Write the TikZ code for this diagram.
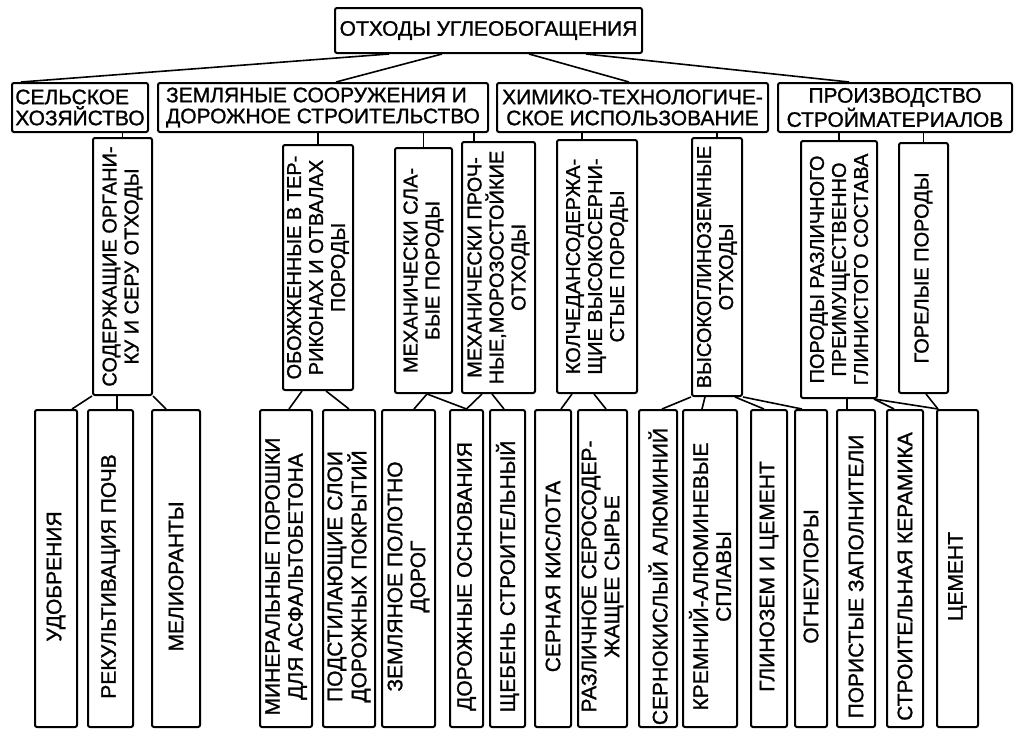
\documentclass[tikz,border=0pt]{standalone}
\usepackage{fontspec}
\setmainfont{Liberation Sans}[FakeBold=1.2]

\begin{document}
\begin{tikzpicture}[x=1pt, y=-1pt,
    box/.style={draw, line width=2pt, rounded corners=2pt, inner sep=0pt},
    vtext/.style={rotate=90, align=center, inner sep=0pt, font=\fontsize{20}{22}\selectfont},
    leaftext/.style={vtext, font=\fontsize{21}{23}\selectfont},
    link/.style={line width=1.6pt},
    every node/.style={font=\fontsize{21}{21}\selectfont}]

\useasboundingbox (0,0) rectangle (1018,731);

% Root
\node[box, minimum width=307, minimum height=45] (top) at (488.5,30.5) {ОТХОДЫ УГЛЕОБОГАЩЕНИЯ};

% Directions of use
\node[box, minimum width=136, minimum height=49, align=left] (sel) at (80,107.5) {СЕЛЬСКОЕ\\ХОЗЯЙСТВО};
\node[box, minimum width=330, minimum height=49, align=left] (zem) at (323,107.5) {ЗЕМЛЯНЫЕ СООРУЖЕНИЯ И\\ДОРОЖНОЕ СТРОИТЕЛЬСТВО};
\node[box, minimum width=271, minimum height=49, align=center] (him) at (632.5,107.5) {ХИМИКО-ТЕХНОЛОГИЧЕ-\\СКОЕ ИСПОЛЬЗОВАНИЕ};
\node[box, minimum width=234, minimum height=49, align=center] (pro) at (895,107.5) {ПРОИЗВОДСТВО\\СТРОЙМАТЕРИАЛОВ};

% Kinds of waste
\foreach \n/\x/\y/\w/\h/\t in {
    org/122.5/266.5/59/257/{СОДЕРЖАЩИЕ ОРГАНИ-\\КУ И СЕРУ ОТХОДЫ},
    obo/318/267.5/70/245/{ОБОЖЖЕННЫЕ В ТЕР-\\РИКОНАХ И ОТВАЛАХ\\ПОРОДЫ},
    msl/423.5/270.5/57/245/{МЕХАНИЧЕСКИ СЛА-\\БЫЕ ПОРОДЫ},
    mpr/498.5/267.5/73/251/{МЕХАНИЧЕСКИ ПРОЧ-\\НЫЕ,МОРОЗОСТОЙКИЕ\\ОТХОДЫ},
    kol/597/266.5/80/253/{КОЛЧЕДАНСОДЕРЖА-\\ЩИЕ ВЫСОКОСЕРНИ-\\СТЫЕ ПОРОДЫ},
    vgl/717/267/50/258/{ВЫСОКОГЛИНОЗЕМНЫЕ\\ОТХОДЫ},
    prd/839/269.5/76/257/{ПОРОДЫ РАЗЛИЧНОГО\\ПРЕИМУЩЕСТВЕННО\\ГЛИНИСТОГО СОСТАВА},
    gor/923.5/268/49/250/{ГОРЕЛЫЕ ПОРОДЫ}} {
    \node[box, minimum width=\w, minimum height=\h] (\n) at (\x,\y) {};
    \node[vtext] (\n-t) at (\n) {\t};
}

% Products
\foreach \n/\x/\w/\t in {
    udo/56/42/{УДОБРЕНИЯ},
    rek/110.5/45/{РЕКУЛЬТИВАЦИЯ ПОЧВ},
    mel/176/48/{МЕЛИОРАНТЫ},
    min/286/52/{МИНЕРАЛЬНЫЕ ПОРОШКИ\\ДЛЯ АСФАЛЬТОБЕТОНА},
    pod/349/52/{ПОДСТИЛАЮЩИЕ СЛОИ\\ДОРОЖНЫХ ПОКРЫТИЙ},
    zpl/408.5/53/{ЗЕМЛЯНОЕ ПОЛОТНО\\ДОРОГ},
    dos/466.5/33/{ДОРОЖНЫЕ ОСНОВАНИЯ},
    shch/507.5/35/{ЩЕБЕНЬ СТРОИТЕЛЬНЫЙ},
    ser/553/36/{СЕРНАЯ КИСЛОТА},
    raz/602.5/49/{РАЗЛИЧНОЕ СЕРОСОДЕР-\\ЖАЩЕЕ СЫРЬЕ},
    sal/658/38/{СЕРНОКИСЛЫЙ АЛЮМИНИЙ},
    kre/710/54/{КРЕМНИЙ-АЛЮМИНЕВЫЕ\\СПЛАВЫ},
    gli/769/36/{ГЛИНОЗЕМ И ЦЕМЕНТ},
    ogn/811/32/{ОГНЕУПОРЫ},
    por/856/38/{ПОРИСТЫЕ ЗАПОЛНИТЕЛИ},
    ker/905/36/{СТРОИТЕЛЬНАЯ КЕРАМИКА},
    cem/957.5/41/{ЦЕМЕНТ}} {
    \node[box, minimum width=\w, minimum height=317] (\n) at (\x,568.5) {};
    \node[leaftext] (\n-t) at ([yshift=-8]\n.center) {\t};
}

% Root to directions
\draw[link] ([xshift=55]top.south west) -- ([xshift=10]sel.north west);
\draw[link] ([xshift=108]top.south west) -- ([xshift=179]zem.north west);
\draw[link] ([xshift=195]top.south west) -- ([xshift=133]him.north west);
\draw[link] ([xshift=252]top.south west) -- ([xshift=72]pro.north west);

% Directions to kinds of waste
\foreach \p/\c in {sel/org, zem/obo, zem/msl, him/vgl, pro/prd, pro/gor} {
    \draw[link] (\c.north |- \p.south) -- (\c.north);
}
\draw[link] ([xshift=13]mpr.north west |- zem.south) -- ([xshift=13]mpr.north west);
\draw[link] ([xshift=26]kol.north west |- him.south) -- ([xshift=26]kol.north west);

% Kinds of waste to products
\draw[link] (org.south west) -- ([xshift=-6]udo.north east);
\draw[link] ([xshift=25]org.south west) -- ([xshift=30]rek.north west);
\draw[link] (org.south east) -- ([xshift=15]mel.north west);
\draw[link] ([xshift=20]obo.south west) -- ([xshift=30]min.north west);
\draw[link] ([xshift=44]obo.south west) -- ([xshift=27]pod.north west);
\draw[link] ([xshift=33]msl.south west) -- ([xshift=33]zpl.north west);
\draw[link] ([xshift=33]msl.south west) -- (dos.north);
\draw[link] ([xshift=21]mpr.south west) -- (dos.north);
\draw[link] ([xshift=31]mpr.south west) -- ([xshift=15]shch.north west);
\draw[link] ([xshift=16]kol.south west) -- ([xshift=27]ser.north west);
\draw[link] ([xshift=38]kol.south west) -- ([xshift=29]raz.north west);
\draw[link] (vgl.south west) -- ([xshift=24]sal.north west);
\draw[link] ([xshift=14]vgl.south west) -- ([xshift=20]kre.north west);
\draw[link] ([xshift=-8]vgl.south east) -- ([xshift=14]gli.north west);
\draw[link] (vgl.south east) -- ([xshift=8]ogn.north west);
\draw[link] ([xshift=47]prd.south west) -- ([xshift=11]por.north west);
\draw[link] ([xshift=-4]prd.south east) -- ([xshift=8]ker.north west);
\draw[link] ([xshift=-4]prd.south east) -- ([xshift=2]cem.north west);
\draw[link] ([xshift=28]gor.south west) -- ([xshift=2]cem.north west);

\end{tikzpicture}
\end{document}
